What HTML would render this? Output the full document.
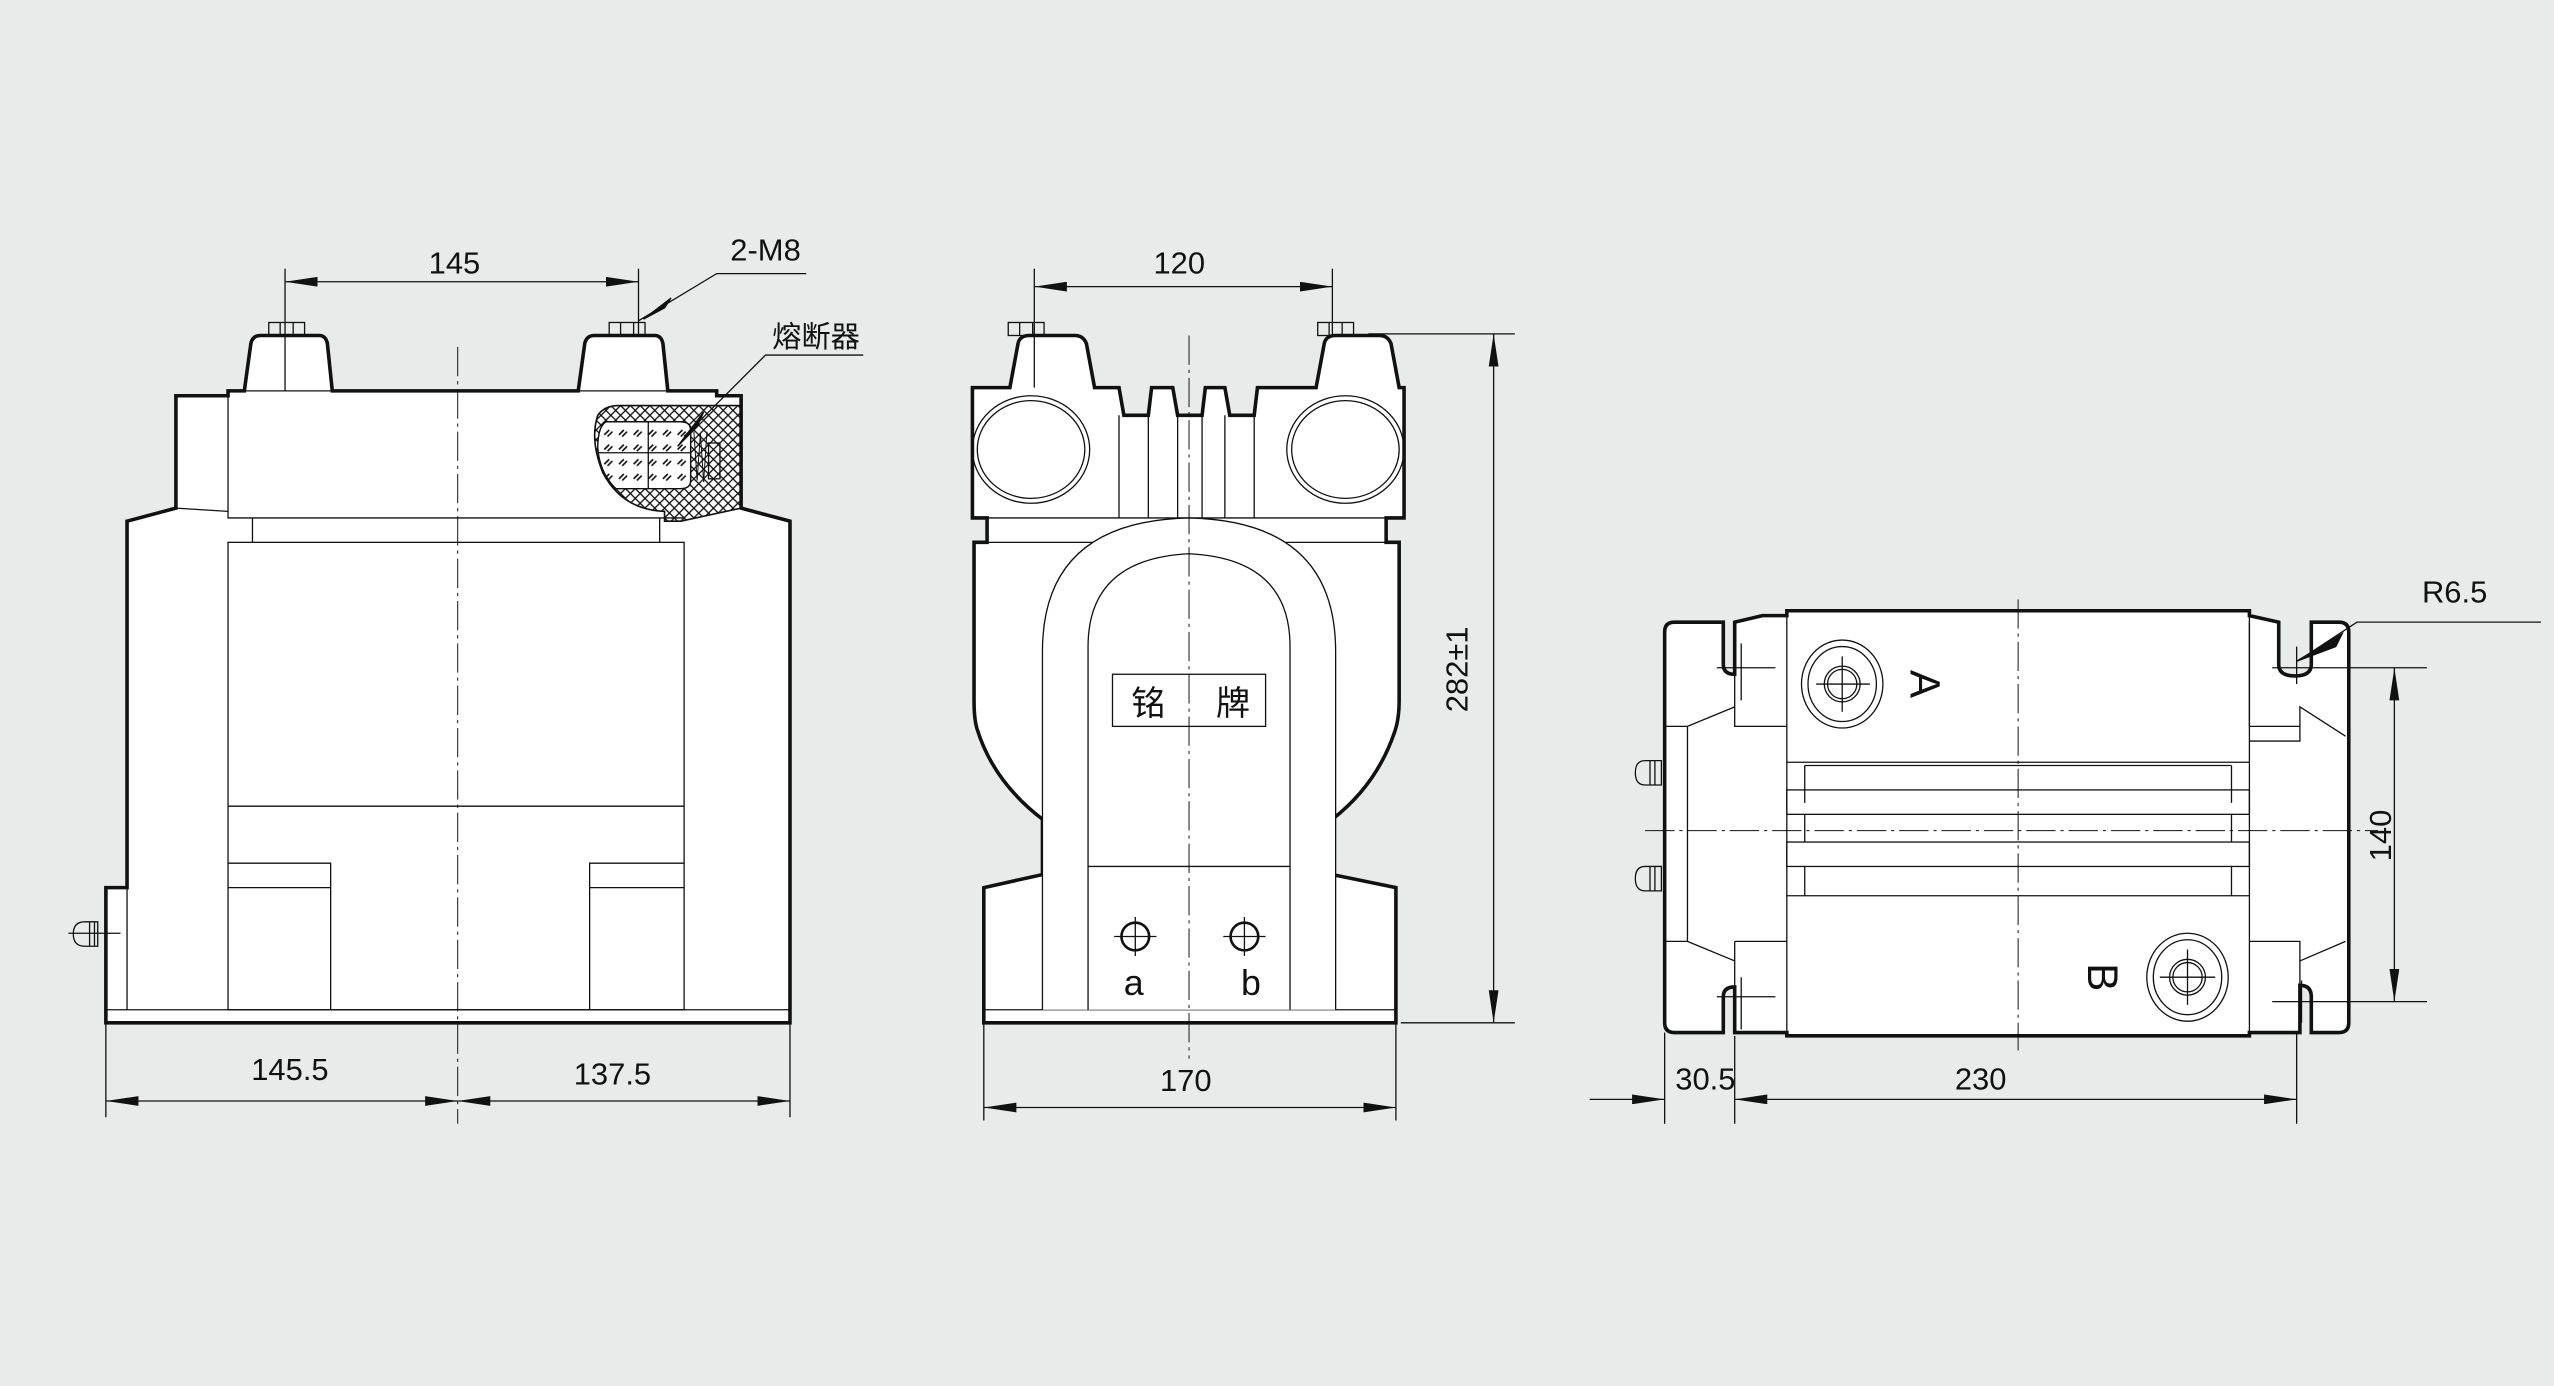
<!DOCTYPE html>
<html><head><meta charset="utf-8"><style>
html,body{margin:0;padding:0;background:#e9ebea;}
svg{display:block}
text{font-family:"Liberation Sans","Noto Sans CJK SC",sans-serif;fill:#111}
</style></head><body>
<svg width="2554" height="1386" viewBox="0 0 1568 851" preserveAspectRatio="none" xmlns="http://www.w3.org/2000/svg">
<defs>
<pattern id="xh" width="6" height="6" patternUnits="userSpaceOnUse"><path d="M0 0L6 6M6 0L0 6" stroke="#111" stroke-width="0.8"/></pattern>
<pattern id="dh" width="9" height="9" patternUnits="userSpaceOnUse"><path d="M2 6L5 3M4 7L7 4" stroke="#111" stroke-width="1"/></pattern>
<marker id="ar" viewBox="0 0 20 6" refX="20" refY="3" markerWidth="20" markerHeight="6" markerUnits="userSpaceOnUse" orient="auto-start-reverse"><path d="M0 0L20 3L0 6z" fill="#111"/></marker>
</defs>
<rect width="1568" height="851" fill="#e9ebea"/>
<g fill="none" stroke="#111" stroke-width="0.8">

<!-- ============ LEFT VIEW ============ -->
<path d="M65 628V545H78V320L108 312V243H140V240H150L154 211Q155 206 160 206H196Q200 206 201 211L204 240H355L359 211Q360 206 365 206H402Q406 206 407 211L410 240H440V243H455V312L485 320V628Z" fill="#fff" stroke-width="2.2"/>
<line x1="65" y1="620" x2="485" y2="620"/>
<line x1="78" y1="545" x2="78" y2="620"/>
<line x1="108" y1="312" x2="140" y2="314"/>
<path d="M140 243V318H420"/>
<path d="M150 240H204M355 240H410"/>
<path d="M155 318V333M405 318V333"/>
<rect x="140" y="333" width="280" height="287"/>
<line x1="140" y1="495" x2="420" y2="495"/>
<path d="M140 530H203V620M140 545H203"/>
<path d="M420 530H362V620M362 545H420"/>
<!-- nuts -->
<rect x="165" y="198" width="22" height="8"/><path d="M172 198V206M180 198V206M167 206H185"/>
<rect x="374" y="198" width="22" height="8"/><path d="M381 198V206M389 198V206M376 206H394"/>
<!-- fuse -->
<path d="M380 249H455V312L418 320H408V314Q382 313 370 290Q362 270 367 255Q371 249 380 249Z" fill="url(#xh)" stroke-width="1"/>
<path d="M372 259H418Q424 259 424 264V295Q424 300 418 300H378Q368 290 367 275Q367 262 372 259Z" fill="#fff"/>
<path d="M372 259H418Q424 259 424 264V295Q424 300 418 300H378Q368 290 367 275Q367 262 372 259Z" fill="url(#dh)"/>
<path d="M398 259V300M367 278H424"/>
<path d="M426 265L428 295L430 266L432 296L434 265" stroke-width="0.6"/>
<rect x="435" y="272" width="7" height="22"/>
<!-- ground bolt -->
<path d="M52 566H60V581H52Q45 581 45 573.5Q45 566 52 566ZM55 566V581M58 566V581M42 573H74"/>
<!-- centerline -->
<line x1="281" y1="213" x2="281" y2="690" stroke-dasharray="18 3 2 3" stroke-width="0.6"/>
<!-- dims -->
<path d="M175 165V240M392 165V205"/>
<line x1="175" y1="173" x2="392" y2="173" marker-start="url(#ar)" marker-end="url(#ar)"/>
<path d="M392 197L440 168H495"/>
<path d="M395 196L412 183L408 189Z" fill="#111"/>
<path d="M420 268L470 218H530"/>
<path d="M416 274L432 253L428 262Z" fill="#111"/>
<path d="M65 628V686M485 628V686"/>
<line x1="65" y1="676" x2="281" y2="676" marker-start="url(#ar)" marker-end="url(#ar)"/>
<line x1="281" y1="676" x2="485" y2="676" marker-start="url(#ar)" marker-end="url(#ar)"/>

<!-- ============ MIDDLE VIEW ============ -->
<path d="M604 628V545L640 537V503Q610 480 600 448Q598 442 598 430V333H606V318H597V238H620L625 211Q626 206 632 206H660Q665 206 667 211L672 238H687L690 255H705L707 238H720L723 255H738L740 238H752L755 255H770L772 238H808L813 211Q814 206 820 206H847Q852 206 854 211L859 238H862V318H851V333H859V430Q859 442 856 450Q845 482 818 503V537L857 545V628Z" fill="#fff" stroke-width="2.2"/>
<line x1="604" y1="620" x2="857" y2="620"/>
<path d="M606 318H851M606 333H851M687 255V318M770 255V318M705 255V318M723 255V318M738 255V318M752 255V318"/>
<ellipse cx="633" cy="276" rx="36" ry="33"/><ellipse cx="633" cy="276" rx="33" ry="30"/>
<ellipse cx="826" cy="276" rx="36" ry="33"/><ellipse cx="826" cy="276" rx="33" ry="30"/>
<path d="M640 620V400Q640 320 730 318Q820 320 820 400V620" fill="#fff"/>
<path d="M668 620V397Q668 343 730 340Q792 343 792 397V620"/>
<line x1="668" y1="532" x2="792" y2="532"/>
<rect x="683" y="414" width="94" height="32" fill="#fff"/>
<rect x="619" y="198" width="22" height="8"/><path d="M626 198V206M634 198V206"/>
<rect x="809" y="198" width="22" height="8"/><path d="M816 198V206M824 198V206"/>
<circle cx="697" cy="575" r="8.5" stroke-width="1.6"/><path d="M684 575H710M697 563V587"/>
<circle cx="764" cy="575" r="8.5" stroke-width="1.6"/><path d="M751 575H777M764 563V587"/>
<line x1="730" y1="206" x2="730" y2="650" stroke-dasharray="18 3 2 3" stroke-width="0.6"/>
<path d="M635 165V238M818 165V206"/>
<line x1="635" y1="176" x2="818" y2="176" marker-start="url(#ar)" marker-end="url(#ar)"/>
<path d="M604 628V688M857 628V688"/>
<line x1="604" y1="680" x2="857" y2="680" marker-start="url(#ar)" marker-end="url(#ar)"/>
<path d="M840 205H930M860 628H930"/>
<line x1="917" y1="205" x2="917" y2="628" marker-start="url(#ar)" marker-end="url(#ar)"/>

<!-- ============ RIGHT VIEW ============ -->
<path d="M1028 382H1058V408Q1058 414 1065 414V382L1082 378H1097V375H1381V378L1399 382V408Q1399 415 1409 415Q1419 415 1419 408V382H1436Q1442 382 1442 388V628Q1442 634 1436 634H1419V612Q1419 605 1412 605V634L1399 634H1381V636H1097V634H1065V606Q1058 606 1058 612V634H1028Q1022 634 1022 628V388Q1022 382 1028 382Z" fill="#fff" stroke-width="2.2"/>
<path d="M1065 382V446H1097M1065 434L1036 446H1022M1036 446V578H1022M1036 578L1065 590M1065 578V634M1065 578H1097"/>
<path d="M1381 382V446H1412V434L1440 452M1412 440V455H1381"/>
<path d="M1381 578H1412V634M1412 590L1440 578"/>
<path d="M1097 375V636M1381 375V636"/>
<line x1="1097" y1="468" x2="1381" y2="468"/>
<path d="M1108 470H1370M1108 470V493M1370 470V493"/>
<rect x="1097" y="485" width="284" height="15"/>
<path d="M1108 500V517M1370 500V517"/>
<rect x="1097" y="517" width="284" height="15"/>
<path d="M1108 532V550M1370 532V550"/>
<line x1="1097" y1="550" x2="1381" y2="550"/>
<ellipse cx="1131" cy="420" rx="25" ry="27"/><ellipse cx="1131" cy="420" rx="21" ry="23"/>
<circle cx="1131" cy="420" r="11"/><circle cx="1131" cy="420" r="9"/>
<path d="M1115 420H1148M1131 403V437"/>
<ellipse cx="1343" cy="600" rx="25" ry="27"/><ellipse cx="1343" cy="600" rx="21" ry="23"/>
<circle cx="1343" cy="600" r="11"/><circle cx="1343" cy="600" r="9"/>
<path d="M1326 600H1360M1343 583V617"/>
<path d="M1054 410H1090M1069 395V430M1054 612H1090M1069 600V632"/>
<path d="M1395 410H1490M1410 397V420M1395 615H1490M1413 602V628"/>
<!-- side bolts -->
<path d="M1010 467H1020V482H1010Q1004 482 1004 474.5Q1004 467 1010 467ZM1013 467V482M1016 467V482"/>
<path d="M1010 532H1020V547H1010Q1004 547 1004 539.5Q1004 532 1010 532ZM1013 532V547M1016 532V547"/>
<line x1="1010" y1="510" x2="1460" y2="510" stroke-dasharray="18 3 2 3" stroke-width="0.6"/>
<line x1="1239" y1="368" x2="1239" y2="645" stroke-dasharray="18 3 2 3" stroke-width="0.6"/>
<line x1="1470" y1="410" x2="1470" y2="615" marker-start="url(#ar)" marker-end="url(#ar)"/>
<path d="M1412 405L1447 382H1560"/>
<path d="M1410 406L1438 389L1434 397Z" fill="#111"/>
<path d="M1022 634V690M1065 636V690M1410 634V690"/>
<line x1="976" y1="675" x2="1022" y2="675" marker-end="url(#ar)"/>
<line x1="1065" y1="675" x2="1410" y2="675" marker-start="url(#ar)" marker-end="url(#ar)"/>
</g>

<g font-size="19">
<text x="279" y="168" text-anchor="middle">145</text>
<text x="470" y="160" text-anchor="middle">2-M8</text>
<text x="501" y="213" text-anchor="middle" font-family="'Noto Serif CJK SC',serif" font-size="18">熔断器</text>
<text x="178" y="663" text-anchor="middle">145.5</text>
<text x="376" y="666" text-anchor="middle">137.5</text>
<text x="724" y="168" text-anchor="middle">120</text>
<text x="728" y="670" text-anchor="middle">170</text>
<text transform="translate(901 411) rotate(-90)" text-anchor="middle">282±1</text>
<text x="705" y="439" text-anchor="middle" font-size="21">铭</text>
<text x="757" y="439" text-anchor="middle" font-size="21">牌</text>
<text x="696" y="611" text-anchor="middle" font-family="'Liberation Serif',serif" font-size="22">a</text>
<text x="768" y="611" text-anchor="middle" font-family="'Liberation Serif',serif" font-size="22">b</text>
<text x="1507" y="370" text-anchor="middle">R6.5</text>
<text transform="translate(1468 513) rotate(-90)" text-anchor="middle">140</text>
<text x="1047" y="669" text-anchor="middle">30.5</text>
<text x="1216" y="669" text-anchor="middle">230</text>
<text transform="translate(1173 420) rotate(90)" text-anchor="middle" font-family="'Liberation Serif',serif" font-size="26">A</text>
<text transform="translate(1282 600) rotate(90)" text-anchor="middle" font-family="'Liberation Serif',serif" font-size="26">B</text>
</g>
</svg>
</body></html>
